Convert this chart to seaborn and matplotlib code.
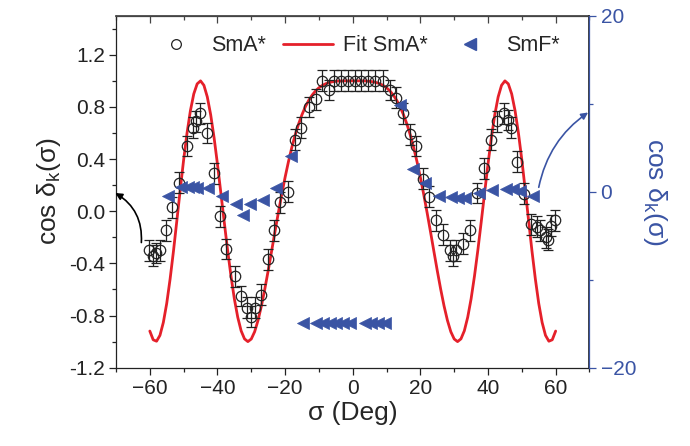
import numpy as np
import pandas as pd
import matplotlib
matplotlib.use('Agg')
import matplotlib.pyplot as plt
import seaborn as sns
from matplotlib.ticker import MultipleLocator
from matplotlib.lines import Line2D

# ---------------- data ----------------
sigma_sma = [-60.3, -59.1, -58.3, -57.1, -55.1, -53.4, -51.4, -49.0, -47.1, -46.3,
             -45.3, -43.1, -41.1, -39.2, -37.4, -34.9, -32.9, -31.2, -30.0, -29.0,
             -27.0, -25.0, -23.3, -21.5, -19.2, -17.2, -15.2, -13.0, -11.0, -9.0,
             -7.0, -5.4, -3.4, -1.4, 0.6, 2.5, 4.5, 6.5, 8.9, 10.9,
             12.9, 14.9, 16.8, 18.8, 20.8, 22.7, 24.7, 26.7, 28.7, 29.6,
             30.6, 32.6, 34.8, 36.7, 38.8, 40.8, 42.8, 44.7, 45.9, 46.7,
             48.7, 50.6, 52.8, 54.5, 55.5, 57.0, 57.7, 58.7, 59.7]
cos_sma = [-0.30, -0.34, -0.32, -0.30, -0.145, 0.03, 0.22, 0.50, 0.64, 0.69,
           0.75, 0.60, 0.29, -0.04, -0.29, -0.50, -0.65, -0.74, -0.81, -0.74,
           -0.64, -0.37, -0.145, 0.07, 0.15, 0.55, 0.64, 0.80, 0.86, 1.00,
           0.93, 1.00, 1.00, 1.00, 1.00, 1.00, 1.00, 1.00, 1.00, 0.93,
           0.87, 0.75, 0.59, 0.50, 0.25, 0.11, -0.07, -0.18, -0.30, -0.34,
           -0.30, -0.25, -0.145, 0.14, 0.33, 0.55, 0.69, 0.75, 0.70, 0.64,
           0.38, 0.135, -0.10, -0.12, -0.145, -0.20, -0.22, -0.11, -0.07]
err_sma = [0.08] * len(sigma_sma)

sigma_fit = list(range(-60, 61))
cos_fit = [-0.919, -0.986, -0.997, -0.952, -0.853, -0.707, -0.520, -0.305, -0.071, 0.166,
           0.394, 0.599, 0.771, 0.900, 0.977, 1.000, 0.966, 0.877, 0.740, 0.565,
           0.362, 0.142, -0.081, -0.298, -0.497, -0.672, -0.813, -0.917, -0.979, -1.000,
           -0.980, -0.924, -0.837, -0.726, -0.597, -0.456, -0.308, -0.158, -0.012, 0.128,
           0.260, 0.381, 0.491, 0.587, 0.670, 0.741, 0.802, 0.851, 0.891, 0.923,
           0.947, 0.965, 0.978, 0.987, 0.993, 0.997, 0.999, 1.000, 1.000, 1.000,
           1.000,
           1.000, 1.000, 1.000, 0.999, 0.997, 0.993, 0.987, 0.978, 0.965, 0.947,
           0.923, 0.891, 0.851, 0.802, 0.741, 0.670, 0.587, 0.491, 0.381, 0.260,
           0.128, -0.012, -0.158, -0.308, -0.456, -0.597, -0.726, -0.837, -0.924, -0.980,
           -1.000, -0.979, -0.917, -0.813, -0.672, -0.497, -0.298, -0.081, 0.142, 0.362,
           0.565, 0.740, 0.877, 0.966, 1.000, 0.977, 0.900, 0.771, 0.599, 0.394,
           0.166, -0.071, -0.305, -0.520, -0.707, -0.853, -0.952, -0.997, -0.986, -0.919]

sigma_smf = [-54.7, -50.7, -48.7, -47.3, -46.1, -42.8, -38.6, -34.4, -32.5, -30.5,
             -26.6, -22.6, -18.2, -14.7, -10.8, -8.8, -6.8, -4.9, -2.9, -0.9,
             3.5, 5.5, 7.5, 9.4, 13.9, 17.8, 21.3, 25.5, 29.2, 31.1,
             33.1, 37.3, 41.3, 45.2, 47.4, 49.4, 53.3]
cos_smf = [-0.46, 0.57, 0.49, 0.49, 0.42, 0.42, -0.46, -1.41, -2.63, -1.41,
           -0.95, 0.42, 4.1, -14.9, -14.9, -14.9, -14.9, -14.9, -14.9, -14.9,
           -14.9, -14.9, -14.9, -14.9, 9.8, 2.6, 1.0, -0.46, -0.65, -0.72,
           -0.72, -0.19, 0.19, 0.30, 0.30, 0.04, -0.46]

x_ticks = [-60, -40, -20, 0, 20, 40, 60]
y_ticks = [-1.2, -0.8, -0.4, 0.0, 0.4, 0.8, 1.2]
y2_ticks = [-20, 0, 20]

# ---------------- style ----------------
sns.set_theme(style='ticks')
plt.rcParams['font.family'] = ['Liberation Sans', 'DejaVu Sans']
plt.rcParams['mathtext.fontset'] = 'custom'
plt.rcParams['mathtext.rm'] = 'Liberation Sans'
plt.rcParams['mathtext.it'] = 'Liberation Sans'

RED = '#E5202A'
BLUE = '#3A54A4'

fig = plt.figure(figsize=(6.9, 4.46), dpi=100)
ax = fig.add_axes([0.1681, 0.1756, 0.6862, 0.7892])

df_fit = pd.DataFrame({'sigma': sigma_fit, 'cos': cos_fit})
sns.lineplot(data=df_fit, x='sigma', y='cos', ax=ax, color=RED, lw=2.0,
             zorder=2, label='_nolegend_', legend=False)

eb = ax.errorbar(sigma_sma, cos_sma, yerr=err_sma, fmt='o', ms=7.5,
                 mfc='none', mec='#222222', mew=0.9, ecolor='#222222',
                 elinewidth=0.9, capsize=3.5, capthick=0.9, zorder=3)

ax.set_xlim(-70, 70)
ax.set_ylim(-1.2, 1.5)
ax.set_xticks(x_ticks)
ax.set_yticks(y_ticks)
ax.set_yticklabels([f'{v:.1f}' for v in y_ticks])
ax.xaxis.set_minor_locator(MultipleLocator(10))
ax.yaxis.set_minor_locator(MultipleLocator(0.2))
ax.tick_params(axis='both', which='major', direction='out', length=5, width=0.9,
               labelsize=15, colors='#222222', pad=3)
ax.tick_params(axis='both', which='minor', direction='out', length=3, width=0.9,
               colors='#222222')
for s in ['left', 'bottom', 'top']:
    ax.spines[s].set_visible(True)
    ax.spines[s].set_color('#222222')
    ax.spines[s].set_linewidth(0.9)
ax.spines['top'].set_color('#444444')

sec = ax.secondary_xaxis('top')
sec.set_xticks(x_ticks)
sec.xaxis.set_minor_locator(MultipleLocator(10))
sec.tick_params(axis='x', which='major', direction='in', length=5, width=0.9,
                labeltop=False, colors='#444444')
sec.tick_params(axis='x', which='minor', direction='in', length=3, width=0.9,
                labeltop=False, colors='#444444')
sec.spines['top'].set_color('#444444')

ax.set_xlabel('σ (Deg)', fontsize=19, labelpad=2)
ax.set_ylabel('cos δ$_\\mathregular{k}$(σ)', fontsize=19, labelpad=4)

# right axis
ax2 = ax.twinx()
df_smf = pd.DataFrame({'sigma': sigma_smf, 'cos': cos_smf})
sns.scatterplot(data=df_smf, x='sigma', y='cos', ax=ax2, marker='<', s=75,
                color=BLUE, edgecolor=BLUE, linewidth=0.5, zorder=4, legend=False)
ax2.set_ylim(-20, 20)
ax2.set_yticks(y2_ticks)
ax2.yaxis.set_minor_locator(MultipleLocator(10))
ax2.tick_params(axis='y', which='major', direction='out', length=5, width=0.9,
                labelsize=15, colors=BLUE, pad=3)
ax2.tick_params(axis='y', which='minor', direction='out', length=3, width=0.9,
                colors=BLUE)
ax2.spines['right'].set_visible(True)
ax2.spines['right'].set_color(BLUE)
ax2.spines['right'].set_linewidth(0.9)
ax2.spines['top'].set_visible(False)
ax2.spines['left'].set_visible(False)
ax2.spines['bottom'].set_visible(False)
ax2.set_xlabel('')
ax2.set_ylabel('cos δ$_\\mathregular{k}$(σ)', fontsize=19, color=BLUE,
               rotation=270, labelpad=24)

# annotation arrows
ax.annotate('', xy=(-70.2, 0.14), xytext=(-62.5, -0.24),
            annotation_clip=False,
            arrowprops=dict(arrowstyle='-|>', color='black', lw=1.2,
                            mutation_scale=10, shrinkA=0, shrinkB=0,
                            connectionstyle='arc3,rad=0.3'))
ax2.annotate('', xy=(69.6, 9.0), xytext=(55.0, 0.5),
             annotation_clip=False,
             arrowprops=dict(arrowstyle='-|>', color=BLUE, lw=1.2,
                             mutation_scale=10, shrinkA=0, shrinkB=0,
                             connectionstyle='arc3,rad=-0.2'))

# legend
h_sma = Line2D([], [], ls='none', marker='o', ms=7, mfc='none', mec='#222222', mew=0.9)
h_fit = Line2D([], [], color=RED, lw=2.0)
h_smf = Line2D([], [], ls='none', marker='<', ms=8, color=BLUE)
leg = ax2.legend([h_sma, h_fit, h_smf], ['SmA*', 'Fit SmA*', 'SmF*'],
                 ncol=3, frameon=False, loc='upper center',
                 bbox_to_anchor=(0.505, 1.0), fontsize=15.5, handlelength=2.3,
                 columnspacing=0.8, handletextpad=0.5, borderaxespad=0.5)

fig.savefig('out.png', dpi=100)
